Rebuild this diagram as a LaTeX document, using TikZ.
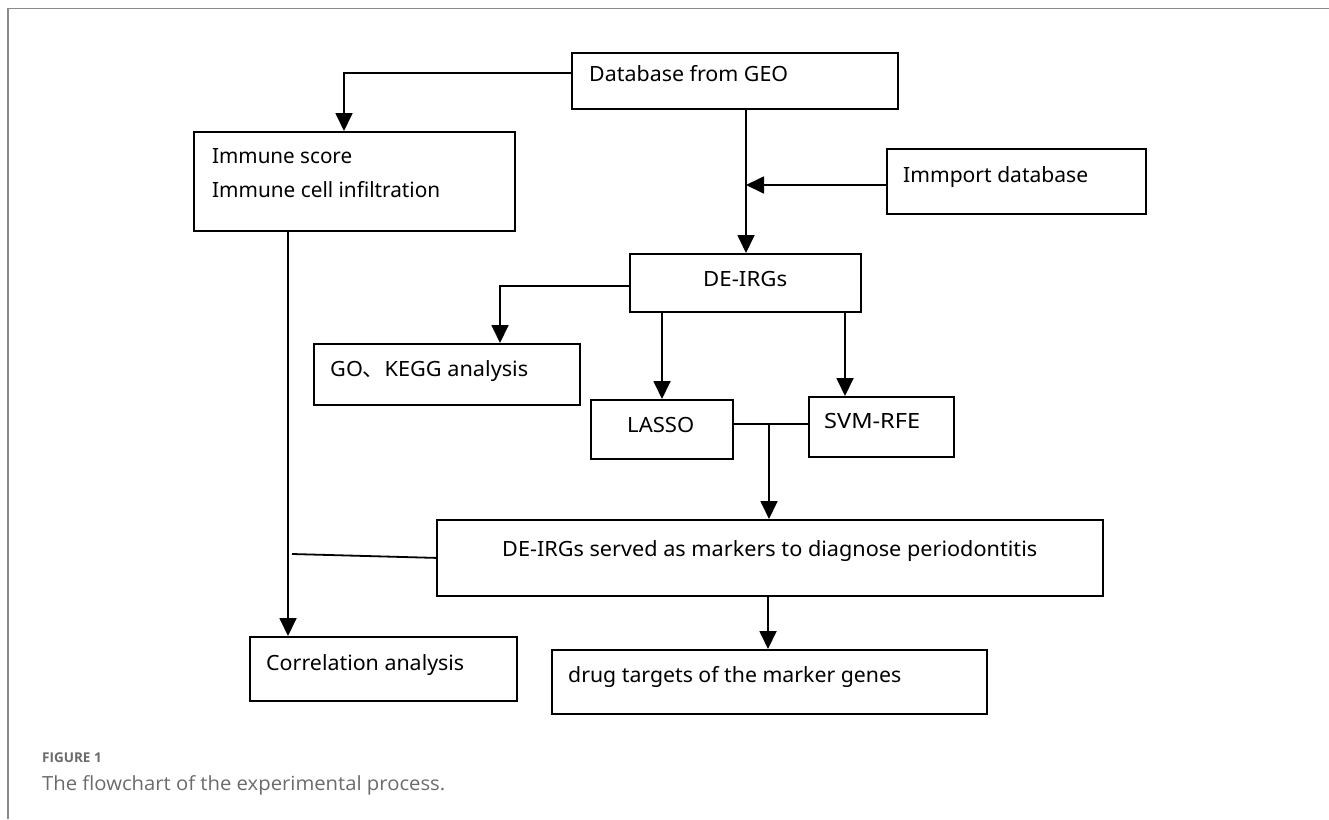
\documentclass[tikz,border=0pt]{standalone}
\usepackage{fontspec}
\usepackage{graphicx}
\setmainfont{Noto Sans}
\newfontfamily\capfont{Open Sans}
\newfontfamily\cjkfont{Noto Sans CJK SC}
\usetikzlibrary{arrows.meta}
\newcommand{\fitw}[2]{\resizebox{#1pt}{\height}{#2}}
\definecolor{framegray}{HTML}{8A8A8A}
\definecolor{capgray}{HTML}{6B6B6B}
\begin{document}
\begin{tikzpicture}[x=1pt,y=-1pt,
  box/.style={draw, line width=1.8pt, inner sep=0pt, anchor=north west},
  conn/.style={line width=1.8pt},
  arr/.style={conn, -{Triangle[width=17pt,length=18pt]}},
  lbl/.style={inner sep=0pt, anchor=base west, font=\fontsize{21}{25}\selectfont},
  lbln/.style={inner sep=0pt, anchor=base west, font=\fontsize{21}{25}\selectfont},
  caphead/.style={inner sep=0pt, anchor=base west, text=capgray, font=\capfont\bfseries\fontsize{13.5}{16}\selectfont},
  captext/.style={inner sep=0pt, anchor=base west, text=capgray, font=\capfont\fontsize{19.5}{23}\selectfont}]
\useasboundingbox (0,0) rectangle (1329,819);
\draw[framegray, line width=1.5pt] (8,819) -- (8,8.5) -- (1329,8.5);

% boxes
\node[box, minimum width=326pt, minimum height=56pt] (db) at (571,52) {};
\node[box, minimum width=321pt, minimum height=99pt] (imm) at (193,131) {};
\node[box, minimum width=259pt, minimum height=65pt] (ipt) at (886,148) {};
\node[box, minimum width=231pt, minimum height=58pt] (de) at (629,253) {};
\node[box, minimum width=266pt, minimum height=61pt] (go) at (313,343) {};
\node[box, minimum width=142pt, minimum height=59pt] (lasso) at (590,399) {};
\node[box, minimum width=145pt, minimum height=60pt] (svm) at (808,396) {};
\node[box, minimum width=666pt, minimum height=76pt] (srv) at (436,519) {};
\node[box, minimum width=267pt, minimum height=64pt] (cor) at (249,636) {};
\node[box, minimum width=435pt, minimum height=64pt] (drug) at (551,649) {};

% texts
\node[lbl] (dbt) at (589,81) {\fitw{199}{Database from GEO}};
\node[lbl] (immt1) at (212,163) {\fitw{140}{Immune score}};
\node[lbl] (immt2) at (212,197) {\fitw{228}{Immune cell infiltration}};
\node[lbl] (iptt) at (903,182) {\fitw{185}{Immport database}};
\node[lbl] (det) at (703,286) {\fitw{84}{DE-IRGs}};
\node[lbl] (got) at (330,376) {\fitw{198}{GO{\cjkfont 、}KEGG analysis}};
\node[lbl] (lassot) at (627,432) {\fitw{67}{LASSO}};
\node[lbl] (svmt) at (824,428) {\fitw{96}{SVM-RFE}};
\node[lbln] (srvt) at (502,556) {\fitw{535}{DE-IRGs served as markers to diagnose periodontitis}};
\node[lbln] (cort) at (266,670) {\fitw{198}{Correlation analysis}};
\node[lbln] (drugt) at (568,682) {\fitw{333}{drug targets of the marker genes}};

% caption
\node[caphead] (cap1) at (42,762) {FIGURE 1};
\node[captext] (cap2) at (42,790) {\fitw{403}{The flowchart of the experimental process.}};

% connectors
\coordinate (c1) at (344,73);
\draw[arr] (db.west |- c1) -- (c1) -- (c1 |- imm.north);
\coordinate (vx) at (746,185);
\draw[arr] (vx |- db.south) -- (vx |- de.north);
\draw[arr] (ipt.west |- vx) -- (vx);
\coordinate (c3) at (500,286);
\draw[arr] (de.west |- c3) -- (c3) -- (c3 |- go.north);
\coordinate (c8) at (662,0);
\draw[arr] (c8 |- de.south) -- (c8 |- lasso.north);
\coordinate (c9) at (845,0);
\draw[arr] (c9 |- de.south) -- (c9 |- svm.north);
\coordinate (c4) at (769,424);
\draw[conn] (lasso.east |- c4) -- (svm.west |- c4);
\draw[arr] (c4) -- (c4 |- srv.north);
\coordinate (c5) at (288,0);
\draw[arr] (c5 |- imm.south) -- (c5 |- cor.north);
\coordinate (c6) at (292,554);
\draw[conn] (c6) -- (srv.west);
\coordinate (c7) at (768,0);
\draw[arr] (c7 |- srv.south) -- (c7 |- drug.north);
\end{tikzpicture}
\end{document}
